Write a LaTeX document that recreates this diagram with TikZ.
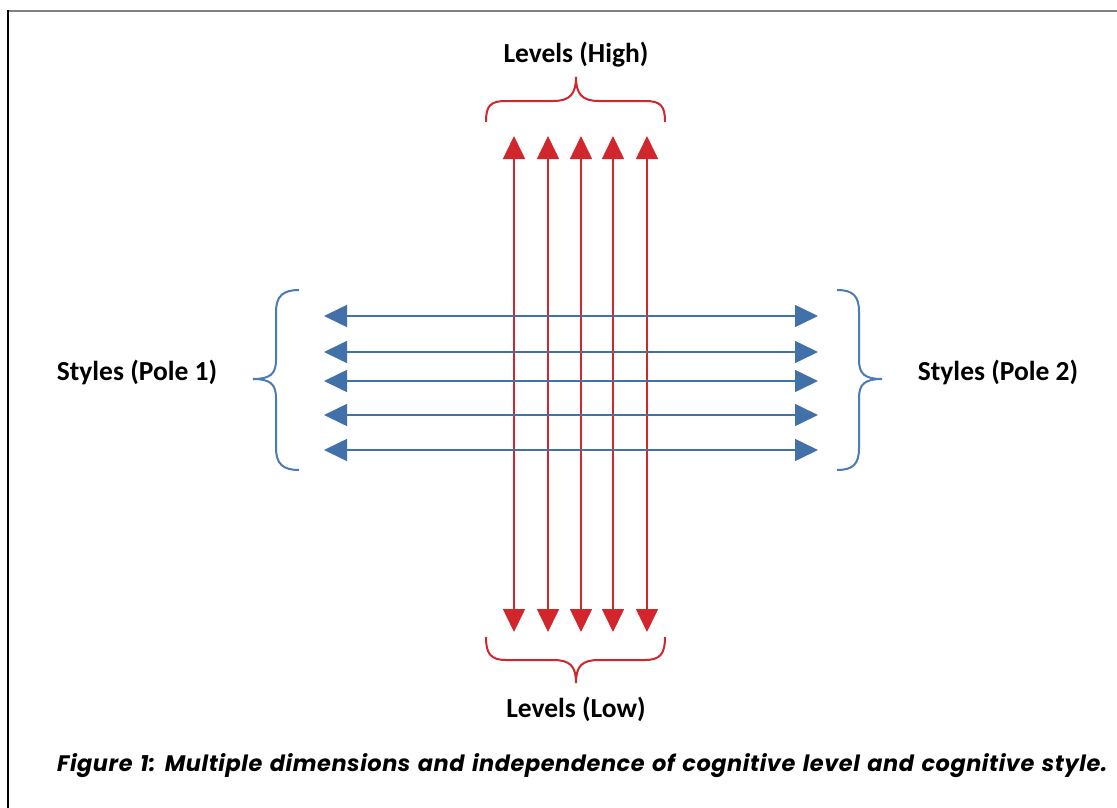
\documentclass[tikz,border=0pt]{standalone}
\usepackage{fontspec}
\setmainfont{Carlito}
\newfontfamily\capfont{Poppins}[LetterSpace=2.5,WordSpace=1.3]
\usetikzlibrary{arrows.meta}
\definecolor{lvred}{HTML}{D0262C}
\definecolor{stblue}{HTML}{4271A9}
\definecolor{brblue}{HTML}{4A7BB7}
\definecolor{framegray}{HTML}{808080}
\tikzset{
  redarrow/.style={draw=lvred, line width=1.6pt, {Triangle[length=23pt,width=22pt]}-{Triangle[length=23pt,width=22pt]}, fill=lvred},
  bluearrow/.style={draw=stblue, line width=1.6pt, {Triangle[length=23pt,width=22pt]}-{Triangle[length=23pt,width=22pt]}, fill=stblue},
  redbrace/.style={draw=lvred, line width=2pt},
  bluebrace/.style={draw=brblue, line width=2pt},
  lbl/.style={font=\bfseries\fontsize{27.5}{30}\selectfont, anchor=base, inner sep=0pt},
}
\begin{document}
\begin{tikzpicture}[x=1pt,y=-1pt]
\useasboundingbox (0,0) rectangle (1117,808);
% frame
\draw[framegray, line width=2pt] (8,11) -- (1117,11);
\draw[black, line width=1.5pt] (8,10) -- (8,808);
% vertical arrows
\foreach \i/\x in {1/514,2/548,3/581,4/613,5/647}{
  \coordinate (t\i) at (\x,136);
  \coordinate (b\i) at (\x,632);
  \draw[redarrow] (b\i) -- (t\i);
}
% horizontal arrows
\foreach \i/\y in {1/316,2/352,3/381,4/415,5/450}{
  \coordinate (l\i) at (324,\y);
  \coordinate (r\i) at (818,\y);
  \draw[bluearrow] (l\i) -- (r\i);
}
% top brace
\draw[redbrace] (486,122) .. controls (486,106) and (490,101) .. (506,101) -- (553,101)
  .. controls (570,101) and (576,94) .. (576,77)
  .. controls (576,94) and (582,101) .. (599,101) -- (645,101)
  .. controls (661,101) and (665,106) .. (665,122);
% bottom brace
\draw[redbrace] (486,637) .. controls (486,653) and (490,660) .. (506,660) -- (553,660)
  .. controls (570,660) and (576,666) .. (576,683)
  .. controls (576,666) and (582,660) .. (599,660) -- (645,660)
  .. controls (661,660) and (665,653) .. (665,637);
% left brace
\draw[bluebrace] (299,290) .. controls (283,290) and (276,296) .. (276,312) -- (276,360)
  .. controls (276,374) and (270,379) .. (253,379)
  .. controls (270,379) and (276,384) .. (276,398) -- (276,448)
  .. controls (276,464) and (283,470) .. (299,470);
% right brace
\draw[bluebrace] (837,290) .. controls (853,290) and (859,296) .. (859,312) -- (859,360)
  .. controls (859,374) and (865,379) .. (882,379)
  .. controls (865,379) and (859,384) .. (859,398) -- (859,448)
  .. controls (859,464) and (853,470) .. (837,470);
% labels
\node[lbl] (high) at (576,63) {Levels (High)};
\node[lbl] (low) at (576,717) {Levels (Low)};
\node[lbl] (pole1) at (137,380) {Styles (Pole 1)};
\node[lbl] (pole2) at (998,380) {Styles (Pole 2)};
% caption
\node[anchor=base west, inner sep=0pt] (cap) at (57,771)
  {\resizebox{1050pt}{!}{\capfont\bfseries\itshape\fontsize{22}{24}\selectfont Figure 1: Multiple dimensions and independence of cognitive level and cognitive style.}};
\end{tikzpicture}
\end{document}
